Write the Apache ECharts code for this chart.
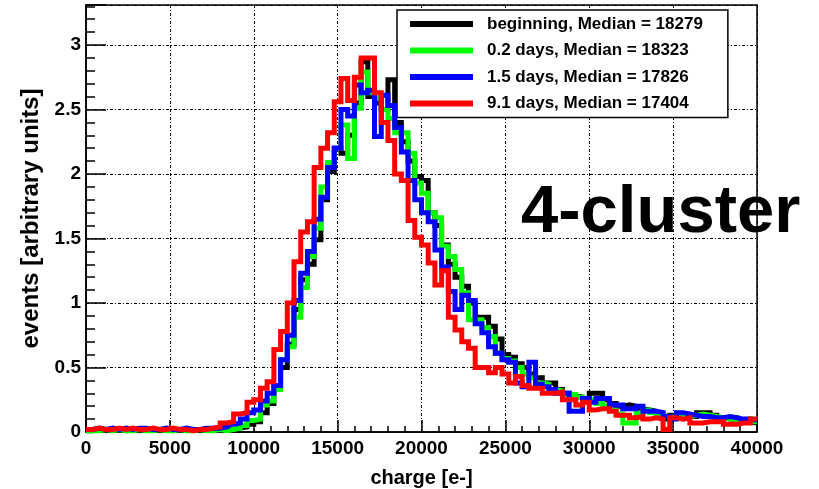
<!DOCTYPE html>
<html>
<head>
<meta charset="utf-8">
<script src="https://cdn.jsdelivr.net/npm/echarts@6/dist/echarts.min.js"></script>
<style>
  html, body { margin: 0; padding: 0; background: #fff; }
  #chart { width: 819px; height: 489px; }
</style>
</head>
<body>
<div id="chart"></div>
<script>
// Charge histograms, 100 bins of 400 e- from 0 to 40000 e-
const BIN_WIDTH = 400;

const seriesNames = [
  'beginning, Median = 18279',
  '0.2 days, Median = 18323',
  '1.5 days, Median = 17826',
  '9.1 days, Median = 17404'
];
const seriesColors = ['#000000', '#00ff00', '#0000ff', '#ff0000'];

const beginning = [
  0.01,0.02,0.01,0.02,0.02,0.01,0.02,0.01,0.02,0.02,
  0.01,0.02,0.01,0.02,0.01,0.02,0.01,0.02,0.02,0.02,
  0.03,0.02,0.03,0.04,0.06,0.08,0.15,0.22,0.36,0.50,
  0.68,0.95,1.18,1.30,1.49,1.80,2.02,2.20,2.16,2.30,
  2.55,2.87,2.60,2.55,2.50,2.73,2.40,2.25,2.10,1.98,
  1.95,1.70,1.60,1.45,1.30,1.20,1.13,1.00,0.89,0.89,
  0.82,0.72,0.60,0.58,0.53,0.50,0.45,0.42,0.38,0.38,
  0.33,0.30,0.28,0.27,0.25,0.30,0.30,0.25,0.22,0.20,
  0.21,0.20,0.18,0.17,0.16,0.14,0.10,0.13,0.12,0.12,
  0.12,0.15,0.15,0.13,0.11,0.10,0.10,0.09,0.08,0.07
];

const days02 = [
  0.01,0.01,0.02,0.01,0.02,0.01,0.01,0.02,0.01,0.01,
  0.02,0.01,0.01,0.02,0.01,0.01,0.02,0.01,0.01,0.02,
  0.01,0.02,0.03,0.05,0.09,0.10,0.21,0.24,0.33,0.56,
  0.66,0.89,1.12,1.36,1.58,1.90,2.09,2.20,2.38,2.12,
  2.51,2.79,2.63,2.59,2.50,2.43,2.32,2.32,2.16,1.93,
  1.85,1.70,1.66,1.44,1.36,1.26,1.08,0.87,0.87,0.81,
  0.74,0.61,0.57,0.55,0.50,0.45,0.42,0.38,0.37,0.33,
  0.32,0.29,0.29,0.27,0.25,0.25,0.22,0.20,0.17,0.14,
  0.07,0.07,0.15,0.17,0.15,0.13,0.12,0.11,0.12,0.12,
  0.13,0.14,0.13,0.12,0.11,0.10,0.11,0.09,0.10,0.08
];

const days15 = [
  0.02,0.03,0.02,0.03,0.02,0.03,0.02,0.03,0.03,0.02,
  0.02,0.03,0.02,0.02,0.03,0.02,0.02,0.03,0.03,0.03,
  0.04,0.06,0.07,0.10,0.15,0.17,0.24,0.30,0.36,0.56,
  0.75,1.02,1.23,1.40,1.65,1.82,2.05,2.20,2.50,2.45,
  2.69,2.63,2.65,2.29,2.61,2.53,2.36,2.17,1.95,1.80,
  1.70,1.63,1.41,1.28,1.09,0.95,1.06,1.02,0.84,0.77,
  0.66,0.61,0.56,0.54,0.38,0.35,0.54,0.37,0.35,0.33,
  0.30,0.30,0.16,0.16,0.26,0.23,0.26,0.26,0.21,0.21,
  0.18,0.18,0.20,0.16,0.16,0.15,0.12,0.10,0.15,0.14,
  0.13,0.12,0.12,0.11,0.11,0.12,0.11,0.10,0.10,0.09
];

const days91 = [
  0.02,0.03,0.02,0.02,0.03,0.02,0.03,0.02,0.02,0.03,
  0.02,0.02,0.03,0.02,0.02,0.01,0.02,0.02,0.03,0.04,
  0.07,0.08,0.14,0.15,0.23,0.25,0.34,0.39,0.64,0.78,
  1.00,1.32,1.55,1.63,2.05,2.20,2.32,2.56,2.74,2.57,
  2.75,2.90,2.90,2.63,2.40,2.26,2.00,1.95,1.64,1.51,
  1.45,1.31,1.14,1.25,0.89,0.79,0.70,0.65,0.50,0.50,
  0.46,0.50,0.45,0.38,0.43,0.36,0.34,0.34,0.30,0.30,
  0.31,0.25,0.25,0.21,0.23,0.17,0.18,0.18,0.16,0.13,
  0.13,0.11,0.12,0.10,0.11,0.10,0.02,0.11,0.10,0.11,
  0.07,0.07,0.08,0.08,0.08,0.06,0.06,0.07,0.07,0.10
];

const seriesValues = [beginning, days02, days15, days91];

const xTicks = { min: 0, max: 40000, interval: 5000 };
const yTicks = { min: 0, max: 3.31, interval: 0.5 };

// Bin left edges paired with contents; one extra point closes the last bin.
function histPoints(vals) {
  const pts = vals.map((v, i) => [i * BIN_WIDTH, v]);
  pts.push([vals.length * BIN_WIDTH, vals[vals.length - 1]]);
  return pts;
}

const FONT = 'Liberation Sans, Arial, Helvetica, sans-serif';
const gridLine = { show: true, lineStyle: { color: '#000', width: 1, type: [3, 2, 1, 2] } };

const chart = echarts.init(document.getElementById('chart'), null, { renderer: 'canvas' });

chart.setOption({
  animation: false,
  backgroundColor: '#fff',
  grid: {
    left: 86, right: 62, top: 5, bottom: 57,
    outerBoundsMode: 'none',
    containLabel: false,
    show: true, borderColor: '#000', borderWidth: 1.5, backgroundColor: 'transparent'
  },
  legend: {
    orient: 'vertical',
    left: 397, top: 10,
    icon: 'rect',
    itemWidth: 63, itemHeight: 6,
    itemGap: 6.5,
    padding: [4, 25, 4, 13],
    backgroundColor: '#fff',
    borderColor: '#000', borderWidth: 1.5,
    data: seriesNames,
    textStyle: { fontFamily: FONT, fontWeight: 'bold', fontSize: 17, color: '#000', lineHeight: 20, padding: [0, 0, 0, 9] }
  },
  xAxis: {
    type: 'value',
    min: xTicks.min, max: xTicks.max, interval: xTicks.interval,
    name: 'charge [e-]', nameLocation: 'middle', nameGap: 36,
    nameTextStyle: { fontFamily: FONT, fontWeight: 'bold', fontSize: 20, color: '#000' },
    axisLine: { show: true, lineStyle: { color: '#000', width: 1.5 } },
    axisTick: { show: true, inside: true, length: 12, lineStyle: { color: '#000', width: 1.5 } },
    minorTick: { show: true, splitNumber: 5, length: 6, lineStyle: { color: '#000', width: 1.5 } },
    axisLabel: { fontFamily: FONT, fontWeight: 'bold', fontSize: 19, color: '#000', margin: 7, formatter: v => String(v) },
    splitLine: gridLine
  },
  yAxis: {
    type: 'value',
    min: yTicks.min, max: yTicks.max, interval: yTicks.interval,
    name: 'events [arbitrary units]', nameLocation: 'middle', nameGap: 40, nameRotate: 90,
    nameTextStyle: { fontFamily: FONT, fontWeight: 'bold', fontSize: 24, color: '#000' },
    axisLine: { show: true, lineStyle: { color: '#000', width: 1.5 } },
    axisTick: { show: true, inside: true, length: 20, lineStyle: { color: '#000', width: 1.5 } },
    minorTick: { show: true, splitNumber: 5, length: 9, lineStyle: { color: '#000', width: 1.5 } },
    axisLabel: { fontFamily: FONT, fontWeight: 'bold', fontSize: 19, color: '#000', margin: 5, showMaxLabel: false, formatter: v => String(v) },
    splitLine: gridLine
  },
  series: seriesValues.map((vals, k) => ({
    name: seriesNames[k],
    type: 'line',
    step: 'end',
    showSymbol: false,
    symbol: 'none',
    z: 2 + k,
    color: seriesColors[k],
    lineStyle: { color: seriesColors[k], width: 5, join: 'miter' },
    data: histPoints(vals)
  })),
  graphic: [{
    type: 'text',
    left: 521, top: 180,
    z: 20,
    style: { text: '4-cluster', fontFamily: FONT, fontWeight: 'bold', fontSize: 67, fill: '#000' }
  }]
});
</script>
</body>
</html>
